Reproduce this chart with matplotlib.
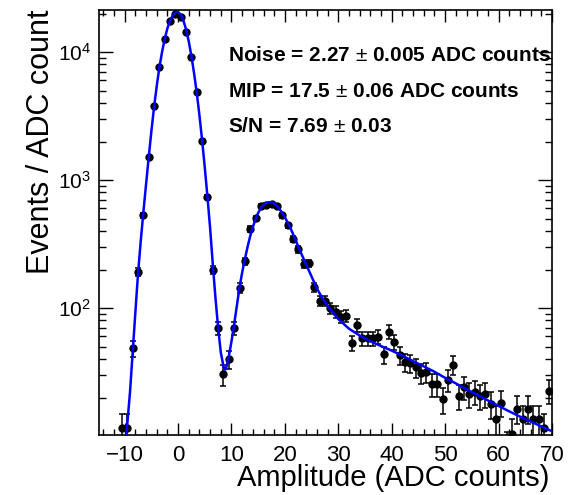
import numpy as np
import matplotlib
matplotlib.use("Agg")
import matplotlib.pyplot as plt
from matplotlib.ticker import MultipleLocator, LogLocator

plt.rcParams['font.family'] = ['Liberation Sans', 'DejaVu Sans']
plt.rcParams['mathtext.fontset'] = 'custom'
plt.rcParams['mathtext.rm'] = 'Liberation Sans'
plt.rcParams['mathtext.bf'] = 'Liberation Sans:bold'

# histogram: bin centres (1 ADC count wide) and contents
bin_centres = np.arange(-10.5, 70.0, 1.0)
counts = [11.5, 11.5, 48.7, 192, 533, 1510, 3800, 7600, 12600, 17600,
          20000, 18900, 14400, 9200, 4840, 2020, 735, 200, 70, 30.3,
          39.8, 70, 144, 233, 414, 501, 626, 638, 648, 626,
          530, 445, 344, 288, 222, 224, 146, 114, 114, 99.5,
          93.6, 85.5, 87, 53.6, 73.6, 58, 58, 58, 59.7, 43.5,
          65.3, 54, 42.7, 38, 37, 34.4, 31.3, 31.8, 25.3, 25.3,
          19.4, 27.4, 35.9, 20.5, 24, 21.3, 22.2, 20.5, 21.3, 17.8,
          13.5, 18.3, 8.0, 10.4, 16.4, 13.5, 16.4, 13.5, 13.5, 11.5,
          22.5]
errors = np.sqrt(counts)

# fit curve
fit_x = [-9.7, -9.0, -8.5, -8.0, -7.5, -7.0, -6.5, -6.0, -5.5, -5.0,
         -4.5, -4.0, -3.5, -3.0, -2.5, -2.0, -1.5, -1.0, -0.5, 0.0,
         0.5, 1.0, 1.5, 2.0, 2.5, 3.0, 3.5, 4.0, 4.5, 5.0,
         5.5, 6.0, 6.5, 7.0, 7.5, 8.0, 8.5, 8.8, 9.0, 9.5,
         10.0, 10.5, 11.0, 11.5, 12.0, 12.5, 13.0, 13.5, 14.0, 14.5,
         15.0, 15.5, 16.0, 16.5, 17.0, 17.5, 18.0, 18.5, 19.0, 19.5,
         20.0, 21.0, 22.0, 23.0, 24.0, 25.0, 26.0, 27.0, 28.0, 30.0,
         32.0, 34.0, 36.0, 38.0, 40.0, 42.0, 44.0, 46.0, 48.0, 50.0,
         52.0, 54.0, 56.0, 58.0, 60.0, 62.0, 64.0, 66.0, 68.0, 70.0]
fit_y = [10, 22, 45, 92, 185, 330, 560, 920, 1500, 2400,
         3700, 5400, 7600, 10000, 12700, 15300, 17600, 19300, 20300, 20500,
         19600, 17600, 15000, 12100, 9300, 6800, 4800, 3200, 2050, 1250,
         740, 420, 220, 120, 70, 45, 35, 33, 34, 42,
         55, 75, 104, 145, 190, 240, 300, 365, 430, 495,
         555, 605, 640, 662, 672, 670, 655, 628, 592, 553,
         512, 425, 340, 270, 218, 176, 142, 120, 104, 82,
         69, 61, 55, 50.5, 46.5, 42.5, 38.5, 35, 31.8, 28.5,
         25.8, 23.2, 21, 19, 17.2, 15.6, 14.2, 13, 11.9, 10.9]

fit_labels = ["Noise = 2.27 $\\pm$ 0.005 ADC counts",
              "MIP = 17.5 $\\pm$ 0.06 ADC counts",
              "S/N = 7.69 $\\pm$ 0.03"]

fig = plt.figure(figsize=(5.77, 4.95), dpi=100)
ax = fig.add_axes([0.1716, 0.1212, 0.7851, 0.8586])

ax.errorbar(bin_centres, counts, yerr=errors, fmt='o', color='black',
            ms=5, elinewidth=1.1, capsize=2, capthick=1.1, zorder=2)
ax.plot(fit_x, fit_y, color='#0000ff', lw=1.8, zorder=3)

ax.set_yscale('log')
ax.set_xlim(-14.8, 70)
ax.set_ylim(10.2, 2.13e4)

ax.xaxis.set_major_locator(MultipleLocator(10))
ax.xaxis.set_minor_locator(MultipleLocator(2))
ax.yaxis.set_major_locator(LogLocator(base=10))
ax.yaxis.set_minor_locator(LogLocator(base=10, subs=np.arange(2, 10)))

ax.tick_params(which='both', direction='in', top=True, right=True, width=1.0)
ax.tick_params(axis='x', which='major', length=8.5, labelsize=16, pad=7)
ax.tick_params(axis='x', which='minor', length=4.5)
ax.tick_params(axis='y', which='major', length=10, labelsize=15, pad=6)
ax.tick_params(axis='y', which='minor', length=5)
ax.yaxis.set_minor_formatter(plt.NullFormatter())
for s in ax.spines.values():
    s.set_linewidth(1.2)

ax.text(0.995, -0.101, "Amplitude (ADC counts)", transform=ax.transAxes,
        ha='right', va='center', fontsize=21)
ax.text(-0.128, 1.0, "Events / ADC count", transform=ax.transAxes,
        rotation=90, ha='center', va='top', fontsize=22)

for lab, yy in zip(fit_labels, [0.894, 0.809, 0.725]):
    ax.text(0.285, yy, lab, transform=ax.transAxes, ha='left', va='center',
            fontsize=15, fontweight='bold')

fig.savefig("out.png", dpi=100)
